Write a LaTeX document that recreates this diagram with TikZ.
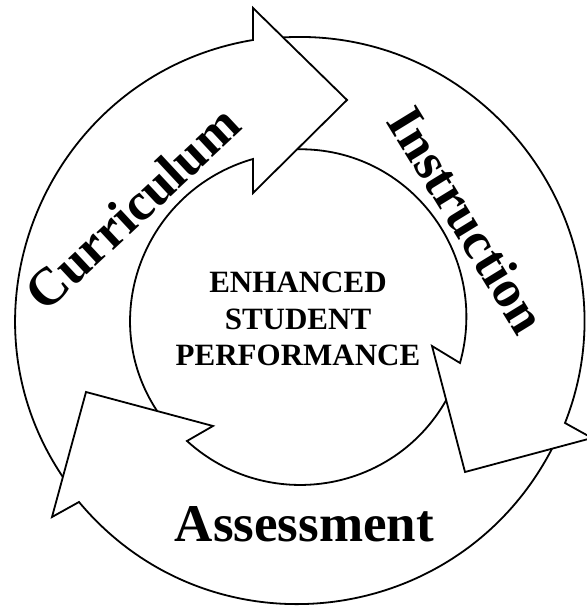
\documentclass[tikz,border=0pt]{standalone}
\usepackage{fontspec}
\setmainfont{Liberation Serif}
\usetikzlibrary{calc}
\tikzset{
    band/.style={draw, line width=1.8pt, line join=miter},
    bigword/.style={font=\fontsize{53}{60}\selectfont\bfseries, inner sep=0pt},
    hubtext/.style={font=\fontsize{31}{36.5}\selectfont\bfseries, align=center, inner sep=0pt}
}
\begin{document}
\begin{tikzpicture}[x=1pt,y=1pt]
    \useasboundingbox (0,0) rectangle (586,607);

    % heads: outer barb, outer join, tip, inner barb, inner join
    \coordinate (cob) at (253,599);
    \coordinate (coj) at (253,567);
    \coordinate (ctip) at (347,507);
    \coordinate (cib) at (253,414);
    \coordinate (cij) at (253,448);

    \coordinate (iob) at (592,169);
    \coordinate (ioj) at (565,184);
    \coordinate (itip) at (465,135);
    \coordinate (iib) at (432,261);
    \coordinate (iij) at (460,244);

    \coordinate (aob) at (52,90);
    \coordinate (aoj) at (79,105);
    \coordinate (atip) at (86,215);
    \coordinate (aib) at (213,181);
    \coordinate (aij) at (187,166);

    % tails start on the edge of the head before them
    \coordinate (cto) at ($(atip)!0.68!(aob)$);
    \coordinate (cti) at ($(atip)!0.56!(aib)$);
    \coordinate (ito) at ($(cob)!0.32!(ctip)$);
    \coordinate (iti) at ($(ctip)!0.53!(cib)$);
    \coordinate (ato) at ($(itip)!0.685!(iob)$);
    \coordinate (ati) at ($(iib)!0.43!(itip)$);

    % Curriculum
    \draw[band] (cto) to[out=124,in=189.4,looseness=1.1] (coj) -- (cob) -- (ctip)
        -- (cib) -- (cij) to[out=196,in=123.4,looseness=1.07] (cti);
    % Instruction
    \draw[band] (ito) to[out=3.3,in=68.5,looseness=1.1] (ioj) -- (iob) -- (itip)
        -- (iib) -- (iij) to[out=74.4,in=1,looseness=1.07] (iti);
    % Assessment
    \draw[band] (ato) to[out=-117.4,in=-50.1,looseness=1.1] (aoj) -- (aob) -- (atip)
        -- (aib) -- (aij) to[out=-42.3,in=-119.7,looseness=1.05] (ati);

    \node[bigword, rotate=43] (curr) at (132,399) {Curriculum};
    \node[bigword, rotate=-58.5] (instr) at (467.5,387) {Instruction};
    \node[bigword, anchor=base] (assess) at (304.5,65) {Assessment};
    \node[hubtext] (hub) at (298,288) {ENHANCED\\STUDENT\\PERFORMANCE};
\end{tikzpicture}
\end{document}
